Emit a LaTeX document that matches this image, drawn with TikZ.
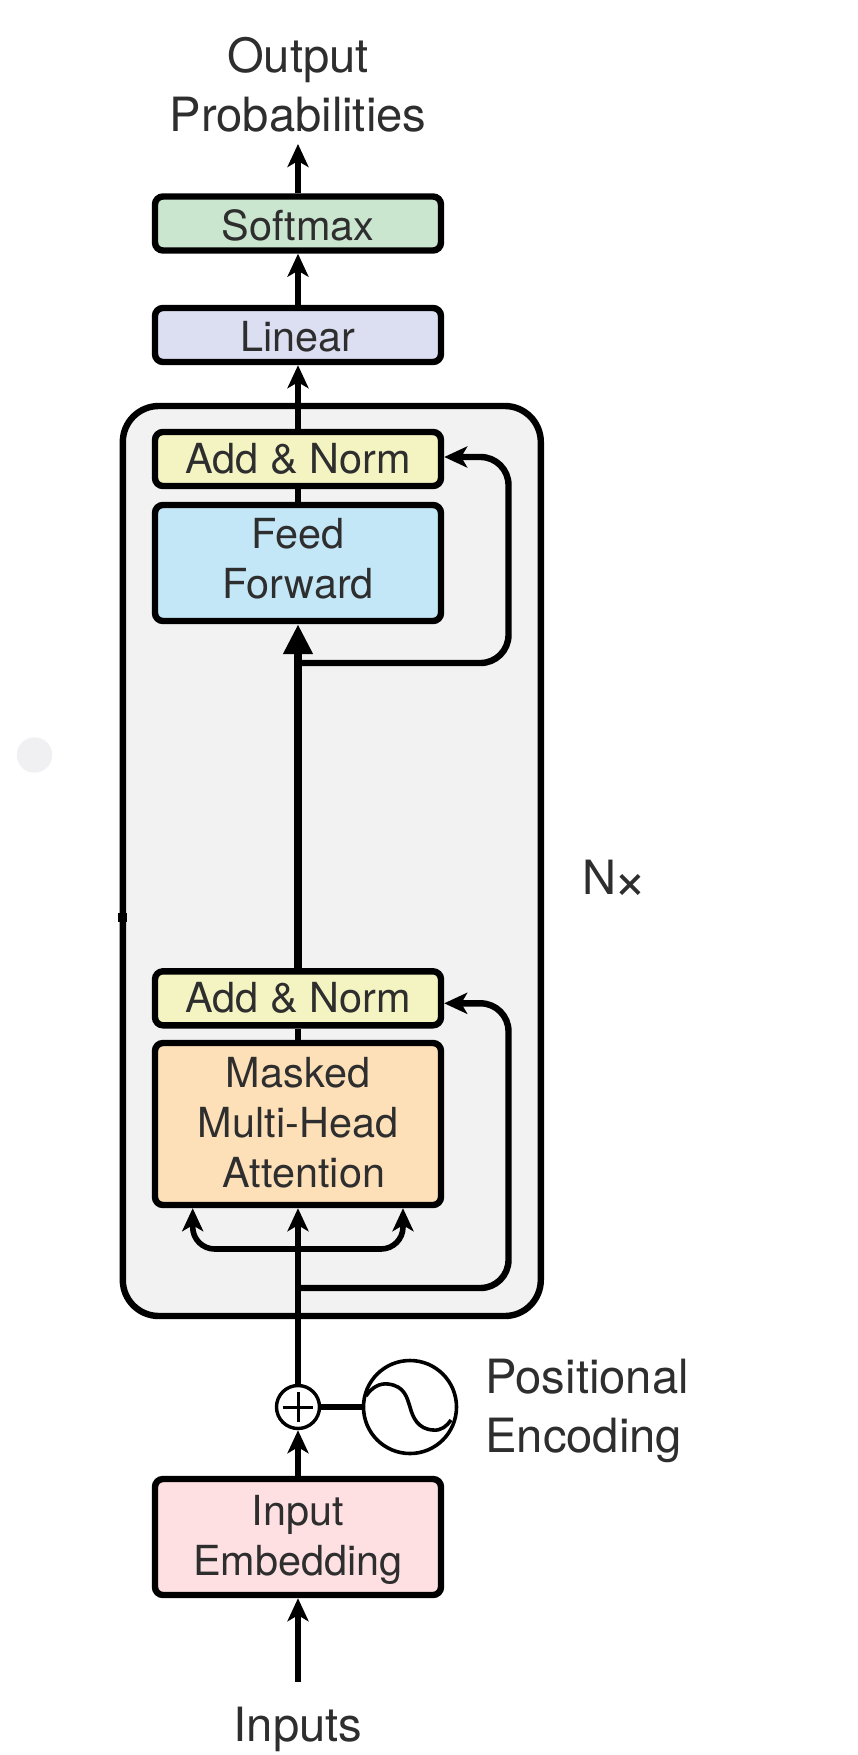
\documentclass[tikz,border=0pt]{standalone}
\usepackage{fontspec}
\setmainfont{TeX Gyre Heros}
\usetikzlibrary{arrows.meta,calc}
\definecolor{txt}{HTML}{2E2E2E}
\definecolor{dotgray}{HTML}{F0F0F2}
\definecolor{outerfill}{HTML}{F2F2F3}
\definecolor{softmaxc}{HTML}{CBE6CF}
\definecolor{linearc}{HTML}{DCDFF2}
\definecolor{addc}{HTML}{F4F4C2}
\definecolor{ffc}{HTML}{C4E7F8}
\definecolor{maskc}{HTML}{FDE0B8}
\definecolor{embc}{HTML}{FEE0E3}
\tikzset{
  boxnode/.style={draw=black,line width=3.2pt,rounded corners=4pt,minimum width=143pt,align=center,text=txt,inner sep=0pt,
     font=\fontsize{20.7}{25}\selectfont},
  textlabel/.style={text=txt,align=center,inner sep=0pt,font=\fontsize{23.6}{29.3}\selectfont},
  conn/.style={line width=3.2pt,draw=black},
  arr/.style={conn,-{Stealth[length=11.5pt,width=10.5pt,inset=3pt]}},
  bigarr/.style={line width=4pt,draw=black,-{Stealth[length=15pt,width=14pt,inset=0pt]}},
}
\begin{document}
\begin{tikzpicture}[x=0.5pt,y=-0.5pt]
\useasboundingbox (0,0) rectangle (857,1755);
\fill[white] (0,0) rectangle (857,1755);
\fill[dotgray] (34.5,755) circle (8.85pt);
% outer block
\node[draw=black,line width=3.2pt,fill=outerfill,rounded corners=18pt,minimum width=209pt,minimum height=455pt,inner sep=0pt] (block) at (331.8,861) {};
\fill[black] (117.5,913) rectangle (127,922);
% boxes
\node[boxnode,fill=softmaxc,minimum height=27pt] (softmax) at (298,223.5) {\rule{0pt}{17pt}Softmax};
\node[boxnode,fill=linearc,minimum height=27pt] (linear) at (298,335) {\rule{0pt}{17pt}Linear};
\node[boxnode,fill=addc,minimum height=27pt] (an2) at (298,459) {Add \& Norm};
\node[boxnode,fill=ffc,minimum height=58pt] (ff) at (298,563) {Feed\\Forward\rule[-4.5pt]{0pt}{0pt}};
\node[boxnode,fill=addc,minimum height=27pt] (an1) at (298,998.3) {Add \& Norm};
\node[boxnode,fill=maskc,minimum height=81pt] (mask) at (298,1124) {Masked\\Multi-Head\\\hspace*{6pt}Attention\rule[-1.7pt]{0pt}{0pt}};
\node[boxnode,fill=embc,minimum height=58pt] (emb) at (298,1537) {\rule{0pt}{18.4pt}Input\\Embedding};
% labels
\node[textlabel] (out) at (298,85) {Output\\Probabilities};
\node[textlabel,anchor=base] (inp) at (298,1741.7) {Inputs};
\node[textlabel,anchor=west,align=left] (pos) at (485,1411) {Positional\\Encoding};
\node[textlabel,anchor=base west] (nx) at (581.7,894) {N\hspace{-1.5pt}\raisebox{-2.5pt}{\fontsize{29}{29}\selectfont ×}};
% adder and wave
\node[circle,draw=black,line width=1.7pt,fill=white,minimum size=21.5pt,inner sep=0pt] (plus) at (298,1407) {};
\draw[line width=1.5pt] ($(plus)+(-14.7,0)$) -- ($(plus)+(14.7,0)$) ($(plus)+(0,-14.7)$) -- ($(plus)+(0,14.7)$);
\node[circle,draw=black,line width=1.8pt,fill=white,minimum size=46.5pt,inner sep=0pt] (wave) at (410,1407) {};
\draw[line width=1.8pt] (366,1396) .. controls (372,1387) and (380,1383) .. (388,1384)
   .. controls (405,1386) and (407,1398) .. (410,1407)
   .. controls (413,1418) and (418,1429) .. (433,1430)
   .. controls (441,1431) and (447,1426) .. (451,1420);
\draw[line width=2.6pt] (plus) -- (wave);
% named free ends and bends
\coordinate (inpstart) at (298,1681.7);
\coordinate (outend) at (298,144);
\coordinate (fbtop) at (298,663);
\coordinate (fbtopc) at (508.5,663);
\coordinate (fbtopin) at ($(an2.east)+(0,-2)$);
\coordinate (fblow) at (298,1288);
\coordinate (fblowc) at (508.5,1288);
\coordinate (fblowin) at ($(an1.east)+(0,5)$);
\coordinate (attm) at (298,1249);
\coordinate (attl) at (192.7,1249);
\coordinate (attr) at (403,1249);
% connectors
\draw[arr] (inpstart) -- (emb.south);
\draw[arr] (emb.north) -- (plus.south);
\draw[arr] (plus.north) -- (mask.south);
\draw[conn] (mask.north) -- (an1.south);
\draw[bigarr] (an1.north) -- (ff.south);
\draw[conn] (ff.north) -- (an2.south);
\draw[arr] (an2.north) -- (linear.south);
\draw[arr] (linear.north) -- (softmax.south);
\draw[arr] (softmax.north) -- (outend);
\draw[arr,rounded corners=14pt] (fbtop) -- (fbtopc) -- (fbtopc |- fbtopin) -- (fbtopin);
\draw[arr,rounded corners=14pt] (fblow) -- (fblowc) -- (fblowc |- fblowin) -- (fblowin);
\draw[arr,line width=2.8pt,rounded corners=11pt] (attm) -- (attl) -- (attl |- mask.south);
\draw[arr,line width=2.8pt,rounded corners=11pt] (attm) -- (attr) -- (attr |- mask.south);
\end{tikzpicture}
\end{document}
